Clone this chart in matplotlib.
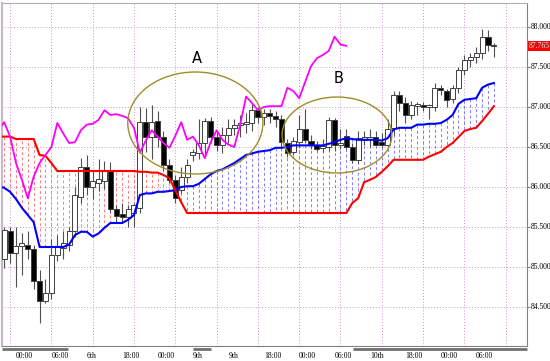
import matplotlib
matplotlib.use("Agg")
import matplotlib.pyplot as plt
import matplotlib.transforms as mtransforms
from matplotlib.patches import Ellipse
import numpy as np

#----------------------------------------------------------------------------#
#------------------------------- Data ---------------------------------------#
#----------------------------------------------------------------------------#

# hourly bars, bar 0 = first "00:00" label
first_bar = -2
opens = [85.10, 85.45, 85.18, 85.26, 85.28, 85.23, 84.83, 84.58, 84.68, 85.15,
         85.24, 85.28, 85.45, 85.88, 86.25, 86.00, 86.05, 86.08, 86.20, 85.73,
         85.66, 85.63, 85.68, 85.74, 86.81, 86.63, 86.82, 86.63, 86.28, 86.09,
         85.96, 86.12, 86.40, 86.42, 86.55, 86.82, 86.63, 86.53, 86.65, 86.74,
         86.77, 86.79, 86.80, 86.96, 86.88, 86.92, 86.89, 86.85, 86.55, 86.44,
         86.56, 86.73, 86.58, 86.52, 86.49, 86.50, 86.84, 86.52, 86.64, 86.50,
         86.34, 86.59, 86.60, 86.62, 86.56, 86.53, 86.74, 87.15, 87.05, 86.90,
         87.01, 87.03, 87.00, 87.00, 87.24, 87.20, 87.10, 87.24, 87.46, 87.59,
         87.62, 87.68, 87.88, 87.77]
highs = [85.50, 85.50, 85.50, 85.42, 85.45, 85.28, 84.96, 84.85, 85.35, 85.40,
         85.45, 85.50, 86.00, 86.36, 86.40, 86.20, 86.35, 86.32, 86.31, 85.78,
         85.80, 85.78, 85.80, 87.00, 86.99, 87.03, 86.95, 86.70, 86.35, 86.15,
         86.25, 86.35, 86.47, 86.85, 86.86, 86.88, 86.70, 86.75, 86.85, 86.85,
         86.90, 86.92, 87.05, 87.00, 86.97, 86.98, 86.95, 86.90, 86.60, 86.62,
         86.90, 86.97, 86.65, 86.58, 86.60, 86.88, 86.86, 86.72, 86.72, 86.55,
         86.70, 86.70, 86.72, 86.70, 86.68, 86.85, 87.20, 87.20, 87.12, 87.08,
         87.06, 87.06, 87.04, 87.30, 87.28, 87.23, 87.28, 87.50, 87.65, 87.68,
         87.75, 87.97, 87.96, 87.80]
lows = [84.99, 85.05, 84.75, 84.90, 85.10, 84.72, 84.30, 84.55, 84.60, 85.08,
        85.10, 85.20, 85.38, 85.80, 85.90, 85.85, 85.95, 85.98, 85.67, 85.55,
        85.55, 85.50, 85.50, 85.68, 86.44, 86.35, 86.50, 86.20, 86.05, 85.80,
        85.92, 86.05, 86.33, 86.35, 86.38, 86.55, 86.45, 86.42, 86.55, 86.65,
        86.62, 86.68, 86.70, 86.80, 86.78, 86.80, 86.75, 86.50, 86.38, 86.40,
        86.50, 86.55, 86.48, 86.45, 86.44, 86.45, 86.45, 86.48, 86.48, 86.30,
        86.30, 86.52, 86.50, 86.52, 86.50, 86.50, 86.65, 86.95, 86.80, 86.85,
        86.90, 86.95, 86.85, 86.95, 87.15, 87.00, 87.05, 87.18, 87.40, 87.50,
        87.55, 87.60, 87.70, 87.62]
closes = [85.46, 85.18, 85.26, 85.30, 85.23, 84.83, 84.58, 84.68, 85.15, 85.25,
          85.30, 85.45, 85.90, 86.25, 86.00, 86.08, 86.10, 86.20, 85.73, 85.64,
          85.63, 85.72, 85.78, 86.81, 86.63, 86.81, 86.63, 86.28, 86.09, 85.86,
          86.12, 86.28, 86.44, 86.55, 86.82, 86.63, 86.53, 86.65, 86.74, 86.78,
          86.80, 86.81, 86.96, 86.87, 86.92, 86.89, 86.85, 86.56, 86.43, 86.58,
          86.73, 86.59, 86.52, 86.48, 86.51, 86.84, 86.52, 86.55, 86.50, 86.34,
          86.61, 86.62, 86.63, 86.53, 86.52, 86.72, 87.15, 87.05, 86.90, 87.02,
          87.04, 87.00, 87.02, 87.24, 87.21, 87.09, 87.24, 87.46, 87.59, 87.63,
          87.68, 87.87, 87.77, 87.765]

# senkou span A (blue) and B (red), from bar -3
span_start = -3
span_a = [86.01, 85.99, 85.94, 85.85, 85.74, 85.65, 85.56, 85.25, 85.25, 85.25,
          85.25, 85.25, 85.28, 85.40, 85.44, 85.44, 85.38, 85.42, 85.49, 85.55,
          85.55, 85.55, 85.59, 85.65, 85.90, 85.92, 85.92, 85.94, 85.94, 85.95,
          85.96, 86.00, 86.01, 86.01, 86.04, 86.10, 86.16, 86.20, 86.22, 86.26,
          86.30, 86.35, 86.40, 86.42, 86.44, 86.45, 86.46, 86.49, 86.49, 86.50,
          86.52, 86.52, 86.52, 86.52, 86.52, 86.52, 86.54, 86.56, 86.59, 86.61,
          86.60, 86.59, 86.59, 86.59, 86.59, 86.58, 86.61, 86.72, 86.74, 86.74,
          86.74, 86.78, 86.78, 86.79, 86.79, 86.80, 86.84, 86.90, 87.04, 87.09,
          87.10, 87.11, 87.24, 87.28, 87.30]
span_b = [86.63, 86.63, 86.63, 86.60, 86.60, 86.60, 86.60, 86.40, 86.39, 86.30,
          86.20, 86.20, 86.20, 86.20, 86.20, 86.20, 86.20, 86.20, 86.20, 86.20,
          86.20, 86.20, 86.20, 86.20, 86.19, 86.19, 86.18, 86.18, 86.15, 86.11,
          85.96, 85.81, 85.675, 85.675, 85.675, 85.675, 85.675, 85.675, 85.675, 85.675,
          85.675, 85.675, 85.675, 85.675, 85.675, 85.675, 85.675, 85.675, 85.675, 85.675,
          85.675, 85.675, 85.675, 85.675, 85.675, 85.675, 85.675, 85.675, 85.675, 85.675,
          85.80, 85.86, 86.06, 86.09, 86.125, 86.19, 86.26, 86.34, 86.34, 86.34,
          86.34, 86.34, 86.34, 86.38, 86.41, 86.44, 86.50, 86.55, 86.625, 86.70,
          86.725, 86.74, 86.825, 86.915, 87.01]

# chikou span (magenta), from bar -3
chikou_start = -3
chikou = [86.71, 86.81, 86.63, 86.30, 86.09, 85.86, 86.13, 86.30, 86.40, 86.50,
          86.80, 86.67, 86.55, 86.56, 86.71, 86.78, 86.79, 86.84, 86.96, 86.90,
          86.91, 86.89, 86.86, 86.74, 86.43, 86.58, 86.71, 86.63, 86.55, 86.49,
          86.64, 86.81, 86.59, 86.63, 86.52, 86.36, 86.56, 86.71, 86.59, 86.53,
          86.50, 86.78, 87.13, 87.05, 86.96, 87.00, 87.01, 87.01, 87.01, 87.24,
          87.20, 87.11, 87.31, 87.51, 87.61, 87.65, 87.70, 87.88, 87.78, 87.765]

tick_bars = [0, 6, 12, 18, 24, 30, 36, 42, 48, 54, 60, 66, 72, 78]
tick_labels = ["00:00", "06:00", "6th", "18:00", "00:00", "9th", "9th",
               "18:00", "00:00", "06:00", "10th", "18:00", "00:00", "06:00"]
price_ticks = [84.5, 85.0, 85.5, 86.0, 86.5, 87.0, 87.5, 88.0]
last_price = 87.765

#----------------------------------------------------------------------------#
#------------------------------ Script --------------------------------------#
#----------------------------------------------------------------------------#

fig = plt.figure(figsize=(5.5, 3.61), dpi=100)
ax = fig.add_axes([2/550, 15/361, 525/550, 343/361])
ax.set_xlim(-2.37, 86.61)
ax.set_ylim(84.0125, 88.30)

# grid
for p in price_ticks:
    ax.axhline(p, color='#c0a0c0', ls=(0, (1, 2)), lw=0.7, zorder=0)
for i, k in enumerate(range(-1, 87, 7)):
    col = '#70c0c0' if i % 3 == 1 else '#d090d0'
    ax.axvline(k, color=col, ls=(0, (1, 2)), lw=0.7, zorder=0)

# cloud hatch
xs = np.arange(span_start, span_start + len(span_a))
a = np.array(span_a)
b = np.array(span_b)
hcol = ['#ff6060' if bb > aa else '#6060ff' for aa, bb in zip(a, b)]
ax.vlines(xs, a, b, colors=hcol, linestyles=(0, (3, 2.5)), lw=0.7,
          alpha=0.8, zorder=1)

# candles
xc = np.arange(first_bar, first_bar + len(opens))
o = np.array(opens)
c = np.array(closes)
ax.vlines(xc, lows, highs, color='#505050', lw=0.8, zorder=3)
bottom = np.minimum(o, c)
height = np.maximum(np.abs(c - o), 0.008)
fc = ['white' if cc >= oo else 'black' for oo, cc in zip(o, c)]
ax.bar(xc, height, bottom=bottom, width=0.85, color=fc,
       edgecolor='#404040', lw=0.7, zorder=4)

# ichimoku lines
ax.plot(xs, span_a, color='#0000ff', lw=1.5, zorder=5)
ax.plot(xs, span_b, color='#ff0000', lw=1.5, zorder=5)
xk = np.arange(chikou_start, chikou_start + len(chikou))
ax.plot(xk, chikou, color='#ff00ff', lw=1.3, zorder=6)

# annotations
ax.add_patch(Ellipse((30.4, 86.80), 22.9, 1.275, fill=False,
                     ec='#a08c28', lw=1.0, zorder=7))
ax.add_patch(Ellipse((54.4, 86.65), 18.6, 0.95, fill=False,
                     ec='#a08c28', lw=1.0, zorder=7))
ax.text(30.7, 87.61, "A", fontsize=10.5, ha='center', va='center')
ax.text(54.7, 87.36, "B", fontsize=10.5, ha='center', va='center')

# axes
ax.set_xticks([])
ax.set_yticks(price_ticks)
ax.yaxis.tick_right()
ax.tick_params(axis='y', length=2, color='#808080', labelright=False)
for p in price_ticks:
    ax.text(1.007, p, "%.3f" % p, transform=ax.get_yaxis_transform(),
            ha='left', va='center', fontsize=5.5, family='Liberation Serif')
ax.text(1.004, last_price, "%.3f" % last_price, transform=ax.get_yaxis_transform(),
        ha='left', va='center', fontsize=5.5, family='Liberation Serif',
        color='#b0ffff', bbox=dict(boxstyle='square,pad=0.15', fc='#ff0000', ec='none'))
for k, lab in zip(tick_bars, tick_labels):
    ax.text(k, -0.03, lab, transform=ax.get_xaxis_transform(), ha='left',
            va='center', fontsize=5.5, family='Liberation Serif')

trans = mtransforms.blended_transform_factory(ax.transData, ax.transAxes)
for k1, k2 in [(-2.37, 8.83), (30.0, 33.05), (57.1, 86.61)]:
    ax.plot([k1, k2], [-0.008, -0.008], transform=trans, color='#707070',
            lw=2.0, solid_capstyle='butt', clip_on=False)

for s in ['right', 'bottom']:
    ax.spines[s].set_color('#808080')
ax.spines['top'].set_color('#b0b0b0')
ax.spines['left'].set_color('#c8b8c8')
ax.spines['left'].set_linewidth(1.5)

fig.savefig('out.png', dpi=100)
